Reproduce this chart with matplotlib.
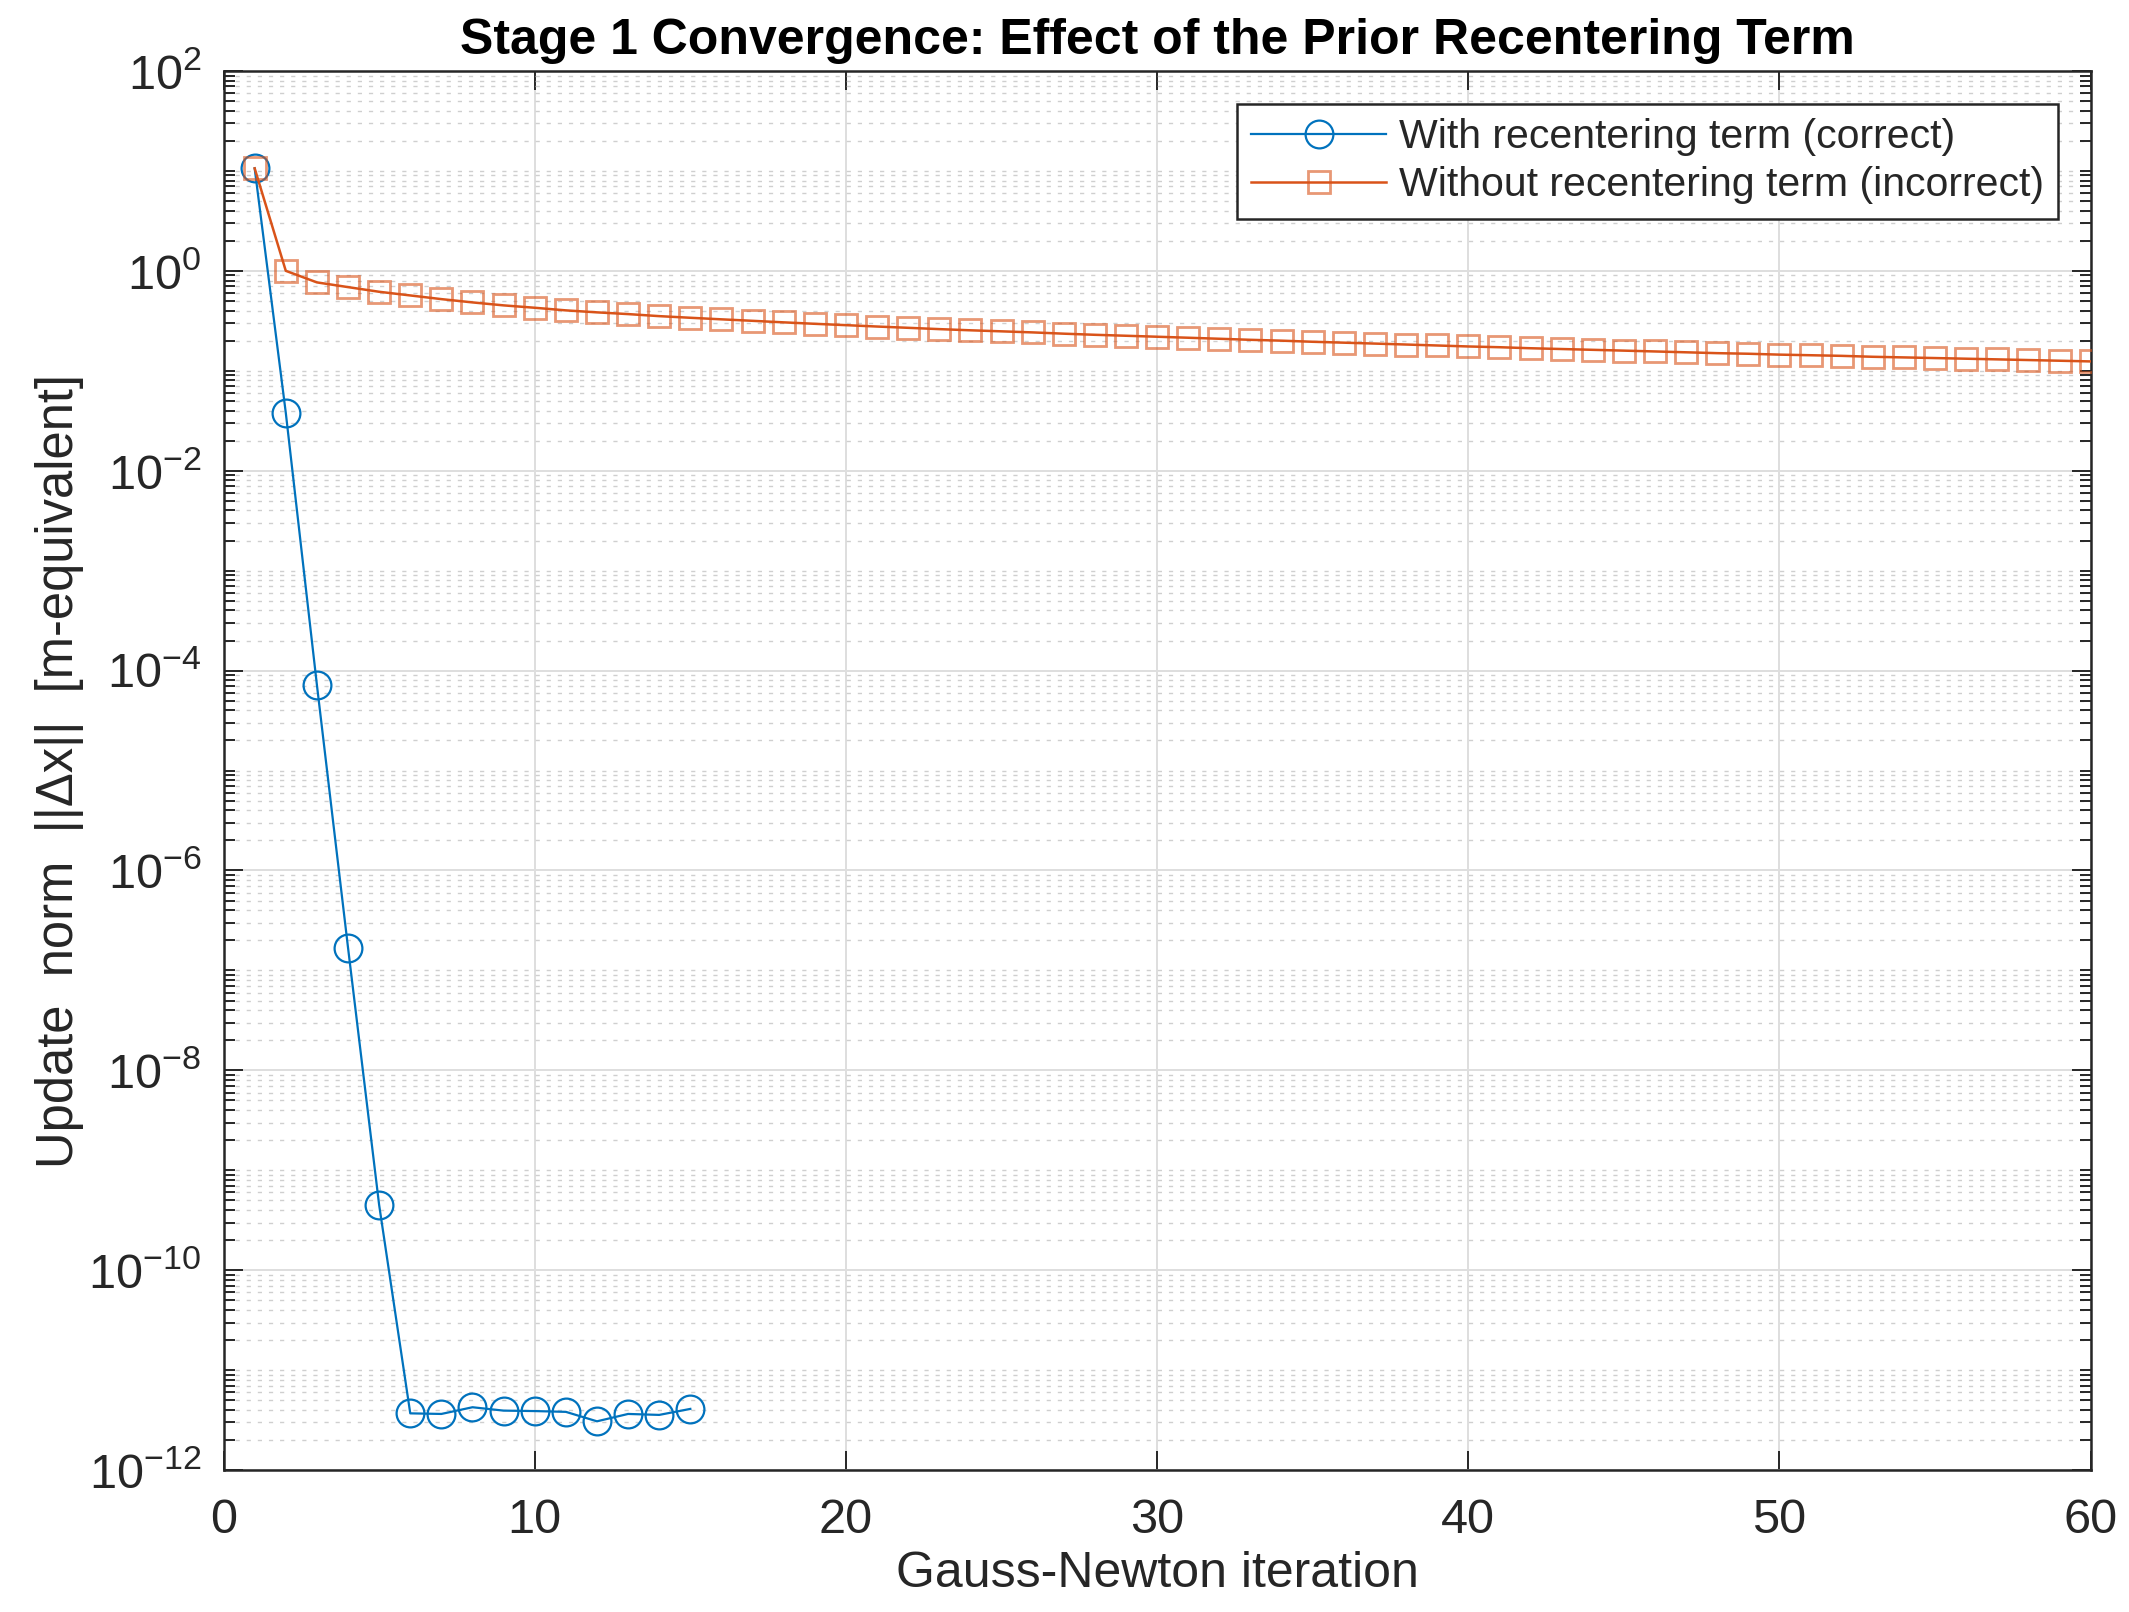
import numpy as np
import matplotlib
matplotlib.use('Agg')
import matplotlib.pyplot as plt
from matplotlib.ticker import FixedLocator, FuncFormatter, NullLocator, NullFormatter

# Gauss-Newton iterations and update norms
iters_with = list(range(1, 16))
norm_with = [10.6, 0.038, 7.2e-5, 1.69e-7, 4.5e-10, 3.7e-12, 3.65e-12, 4.26e-12,
             3.94e-12, 3.9e-12, 3.83e-12, 3.08e-12, 3.65e-12, 3.57e-12, 4.1e-12]

iters_without = list(range(1, 61))
norm_without = [10.6, 1.0, 0.766, 0.687, 0.617, 0.567, 0.521, 0.483, 0.451, 0.427,
                0.402, 0.384, 0.369, 0.352, 0.339, 0.327, 0.316, 0.305, 0.295, 0.286,
                0.277, 0.269, 0.261, 0.254, 0.248, 0.242, 0.235, 0.229, 0.224, 0.219,
                0.214, 0.209, 0.204, 0.200, 0.195, 0.191, 0.187, 0.183, 0.179, 0.175,
                0.172, 0.168, 0.165, 0.162, 0.159, 0.156, 0.153, 0.150, 0.148, 0.145,
                0.143, 0.141, 0.138, 0.136, 0.134, 0.132, 0.130, 0.128, 0.126, 0.124]

label_with = 'With recentering term (correct)'
label_without = 'Without recentering term (incorrect)'
title = 'Stage 1 Convergence: Effect of the Prior Recentering Term'
xlabel = 'Gauss-Newton iteration'
ylabel = 'Update  norm  ||\u0394x||  [m-equivalent]'

plt.rcParams['font.family'] = ['Liberation Sans', 'DejaVu Sans']
plt.rcParams['mathtext.fontset'] = 'custom'
plt.rcParams['mathtext.rm'] = 'Liberation Sans'
plt.rcParams['mathtext.it'] = 'Liberation Sans:italic'

ink = '#262626'
blue = '#0072BD'
orange = '#D95319'

fig = plt.figure(figsize=(21.29, 16.12), dpi=100)
ax = fig.add_axes([0.105, 0.088, 0.877, 0.868])

ax.plot(iters_with, norm_with, color=blue, lw=1.6, marker='o', ms=20,
        mfc='none', mec=blue, mew=1.6, label=label_with, zorder=3)
ax.plot(iters_without, norm_without, color=orange, lw=1.8, marker='s', ms=16.5,
        mfc='none', mec=(0.851, 0.325, 0.098, 0.6), mew=2.0,
        label=label_without, zorder=3)

ax.set_yscale('log')
ax.set_xlim(0, 60)
ax.set_ylim(1e-12, 1e2)

# y ticks: labels on even decades, minor ticks at every 1..9 x 10^k
major_y = [10.0 ** k for k in range(-12, 3, 2)]
minor_y = [m * 10.0 ** k for k in range(-12, 2) for m in range(1, 10)
           if not (m == 1 and k % 2 == 0)]
ax.yaxis.set_major_locator(FixedLocator(major_y))
ax.yaxis.set_minor_locator(FixedLocator(minor_y))
ax.yaxis.set_major_formatter(FuncFormatter(
    lambda v, p: r'$\mathrm{10^{%d}}$' % int(round(np.log10(v)))))
ax.yaxis.set_minor_formatter(NullFormatter())
ax.xaxis.set_major_locator(FixedLocator(range(0, 61, 10)))
ax.xaxis.set_minor_locator(NullLocator())

ax.tick_params(which='both', direction='in', top=True, right=True,
               colors=ink, labelsize=35, width=1.4)
ax.tick_params(which='major', length=14, pad=16)
ax.tick_params(axis='x', which='major', pad=20)
ax.tick_params(which='minor', length=8)
for s in ax.spines.values():
    s.set_color(ink)
    s.set_linewidth(1.8)

ax.grid(True, which='major', color='#dedede', lw=1.4, linestyle='-')
ax.yaxis.grid(True, which='minor', color='#cfcfcf', lw=1.0,
              linestyle=(0, (3, 5)))
ax.set_axisbelow(True)

ax.set_title(title, fontsize=36, fontweight='bold', color='black', pad=12)
ax.set_xlabel(xlabel, fontsize=36, color=ink, labelpad=6)
ax.set_ylabel(ylabel, fontsize=36.5, color=ink, labelpad=3)

leg = ax.legend(loc='upper right', fontsize=29.5, frameon=True, fancybox=False,
                framealpha=1, edgecolor=ink, handlelength=3.3,
                borderaxespad=0.8, borderpad=0.35, labelspacing=0.25,
                handletextpad=0.3)
leg.get_frame().set_linewidth(1.8)
for t in leg.get_texts():
    t.set_color(ink)

fig.savefig('out.png', dpi=100)
